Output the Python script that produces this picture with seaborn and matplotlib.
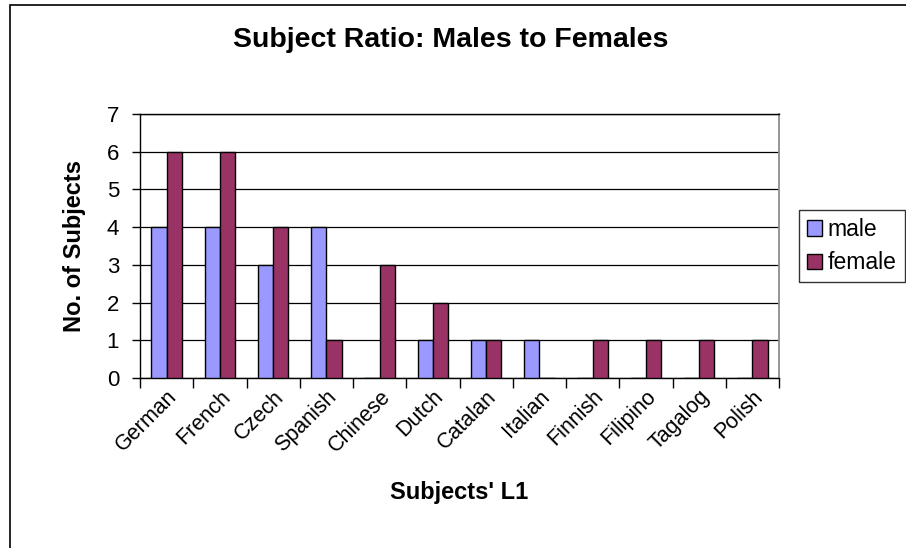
import matplotlib
matplotlib.use("Agg")
import matplotlib.pyplot as plt
import matplotlib.patches as mpatches
import numpy as np
import pandas as pd
import seaborn as sns

# Counts of subjects per first language
languages = ["German", "French", "Czech", "Spanish", "Chinese", "Dutch",
             "Catalan", "Italian", "Finnish", "Filipino", "Tagalog", "Polish"]
male = [4, 4, 3, 4, 0, 1, 1, 1, 0, 0, 0, 0]
female = [6, 6, 4, 1, 3, 2, 1, 0, 1, 1, 1, 1]
series = ["male", "female"]
colors = ["#9999FF", "#993366"]
y_ticks = [0, 1, 2, 3, 4, 5, 6, 7]

df = pd.DataFrame({
    "L1": languages * 2,
    "count": male + female,
    "sex": ["male"] * len(languages) + ["female"] * len(languages),
})

sns.set_theme(style="white")
plt.rcParams["font.family"] = ["Liberation Sans", "DejaVu Sans"]
plt.rcParams["text.color"] = "black"
plt.rcParams["axes.labelcolor"] = "black"
plt.rcParams["xtick.color"] = "black"
plt.rcParams["ytick.color"] = "black"

fig = plt.figure(figsize=(9.06, 5.48), dpi=100)
ax = fig.add_axes([140 / 906, 1 - 378 / 548, (779 - 140) / 906, (378 - 114) / 548])

sns.barplot(data=df, x="L1", y="count", hue="sex", hue_order=series,
            order=languages, palette=colors, width=0.57,
            edgecolor="black", linewidth=1, saturation=1,
            ax=ax, legend=False, zorder=3)

# Axis limits, gridlines and ticks
ax.set_ylim(0, 7)
ax.set_xlim(-0.5, len(languages) - 0.5)
ax.set_yticks(y_ticks)
ax.set_yticklabels([str(v) for v in y_ticks], fontsize=16)
ax.yaxis.grid(True, color="black", linewidth=0.9, zorder=0)
ax.set_axisbelow(True)
ax.tick_params(axis="y", which="major", direction="out", length=6, width=1,
               color="black", left=True, pad=9)

ax.set_xticks(np.arange(len(languages)))
ax.set_xticklabels(languages, rotation=45, ha="right", rotation_mode="anchor",
                   fontsize=15.5)
ax.set_xticks(np.arange(len(languages) + 1) - 0.5, minor=True)
ax.tick_params(axis="x", which="major", length=0, pad=6)
ax.tick_params(axis="x", which="minor", direction="out", length=7, width=1,
               color="black", bottom=True)

for side in ("left", "bottom", "top"):
    ax.spines[side].set_color("black")
    ax.spines[side].set_linewidth(1)
ax.spines["right"].set_color("#8c8c8c")
ax.spines["right"].set_linewidth(1.3)

ax.set_xlabel("Subjects' L1", fontsize=17, fontweight="bold")
ax.set_ylabel("No. of Subjects", fontsize=17, fontweight="bold")
ax.xaxis.set_label_coords(0.5, -0.39)
ax.yaxis.set_label_coords(-0.085, 0.5)

fig.text(0.497, 1 - 40 / 548, "Subject Ratio: Males to Females",
         ha="center", va="center", fontsize=20.5, fontweight="bold")

# Legend
handles = [mpatches.Patch(facecolor=c, edgecolor="black", linewidth=1, label=s)
           for s, c in zip(series, colors)]
leg = fig.legend(handles=handles, loc="upper left",
                 bbox_to_anchor=(799 / 906, 1 - 210 / 548),
                 frameon=True, fontsize=16.5, fancybox=False,
                 handlelength=0.65, handleheight=0.65, handletextpad=0.25,
                 borderpad=0.35, labelspacing=0.45, borderaxespad=0)
leg.get_frame().set_edgecolor("black")
leg.get_frame().set_linewidth(1)

# Chart border
fig.patches.append(mpatches.Rectangle((10 / 906, -0.1), 1.2, 1.1 - 5 / 548,
                                      transform=fig.transFigure, fill=False,
                                      edgecolor="black", linewidth=1.2))

fig.savefig("out.png", dpi=100)
